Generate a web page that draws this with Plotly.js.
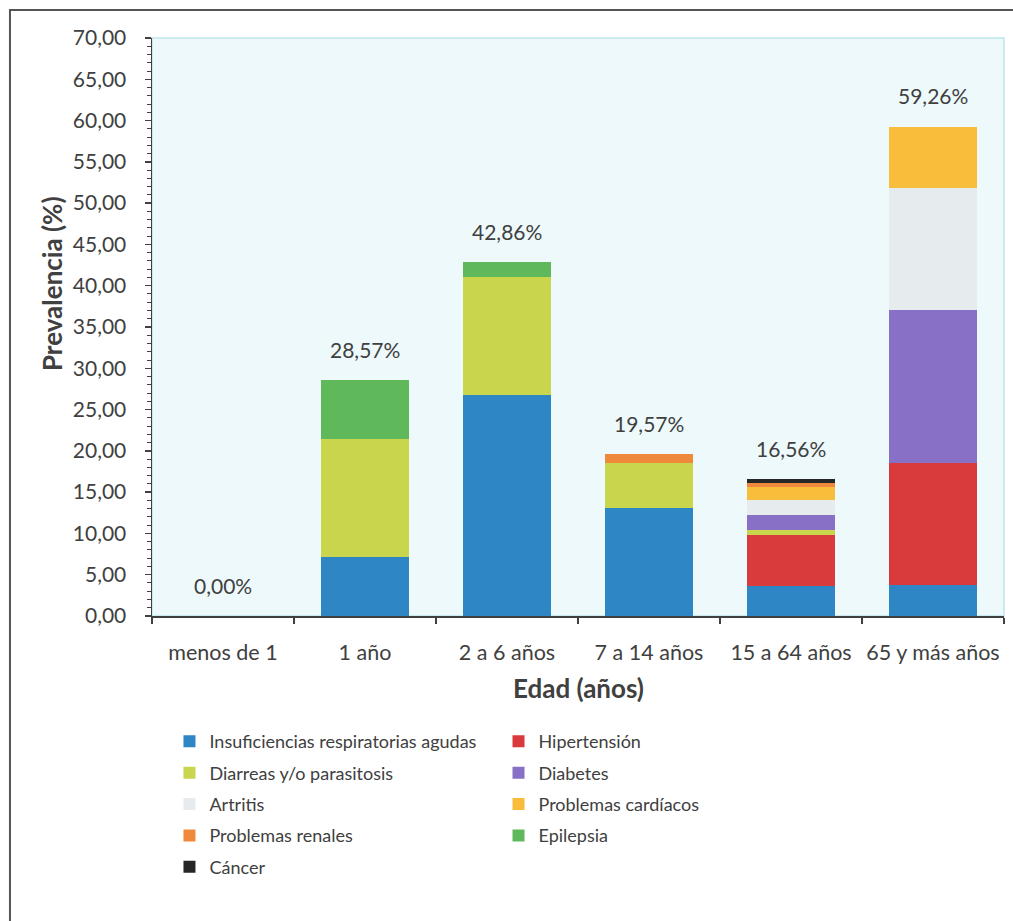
<!DOCTYPE html>
<html>
<head>
<meta charset="utf-8">
<script src="https://cdn.plot.ly/plotly-3.0.1.min.js"></script>
<style>
  html, body { margin: 0; padding: 0; background: #ffffff; }
  #chart { width: 1013px; height: 921px; }
</style>
</head>
<body>
<div id="chart"></div>
<script>
// Grupos de edad
const categorias = ["menos de 1", "1 año", "2 a 6 años", "7 a 14 años", "15 a 64 años", "65 y más años"];

// Prevalencia (%) por enfermedad y grupo de edad
const insuficiencias = [0, 7.14, 26.79, 13.04, 3.68, 3.70];
const hipertension   = [0, 0, 0, 0, 6.13, 14.81];
const diarreas       = [0, 14.29, 14.29, 5.44, 0.61, 0];
const diabetes       = [0, 0, 0, 0, 1.84, 18.52];
const artritis       = [0, 0, 0, 0, 1.84, 14.82];
const cardiacos      = [0, 0, 0, 0, 1.53, 7.41];
const renales        = [0, 0, 0, 1.09, 0.46, 0];
const epilepsia      = [0, 7.14, 1.78, 0, 0, 0];
const cancer         = [0, 0, 0, 0, 0.47, 0];

// columna de la leyenda: 1 = izquierda, 2 = derecha
const series = [
  { name: "Insuficiencias respiratorias agudas", values: insuficiencias, color: "#2f86c4", col: 1 },
  { name: "Hipertensión",                       values: hipertension,   color: "#d93b3d", col: 2 },
  { name: "Diarreas y/o parasitosis",           values: diarreas,       color: "#c9d54c", col: 1 },
  { name: "Diabetes",                           values: diabetes,       color: "#8870c6", col: 2 },
  { name: "Artritis",                           values: artritis,       color: "#e6ebee", col: 1 },
  { name: "Problemas cardíacos",                values: cardiacos,      color: "#f7bd3b", col: 2 },
  { name: "Problemas renales",                  values: renales,        color: "#ef8a3c", col: 1 },
  { name: "Epilepsia",                          values: epilepsia,      color: "#5fb95a", col: 2 },
  { name: "Cáncer",                             values: cancer,         color: "#262626", col: 1 }
];

const textColor = "#404040";
const fontFamily = "Lato, 'Open Sans', sans-serif";

const traces = series.map((s, i) => ({
  type: "bar",
  name: s.name,
  x: categorias,
  y: s.values,
  legend: s.col === 1 ? "legend" : "legend2",
  legendgroup: "g" + i,
  marker: { color: s.color, line: { width: 0 } },
  hoverinfo: "x+y+name"
}));

// Total por grupo de edad, sumado de las series
const totales = categorias.map((_, i) =>
  series.reduce((acc, s) => acc + s.values[i], 0));

const fmt = v => v.toFixed(2).replace(".", ",") + "%";

const etiquetas = categorias.map((c, i) => ({
  x: c, y: totales[i], xref: "x", yref: "y",
  text: fmt(totales[i]),
  showarrow: false, yshift: 31,
  font: { family: fontFamily, size: 21, color: textColor }
}));

const titulos = [
  {
    text: "<b>Prevalencia (%)</b>", textangle: -90,
    xref: "paper", yref: "paper", x: -0.1174, y: 0.576,
    xanchor: "center", yanchor: "middle", showarrow: false,
    font: { family: fontFamily, size: 26, color: textColor }
  },
  {
    text: "<b>Edad (años)</b>",
    xref: "paper", yref: "paper", x: 0.5, y: -0.1246,
    xanchor: "center", yanchor: "middle", showarrow: false,
    font: { family: fontFamily, size: 26, color: textColor }
  }
];

const legendBase = {
  orientation: "v",
  xanchor: "left",
  y: -0.1852, yanchor: "top",
  traceorder: "grouped",
  tracegroupgap: 5,
  font: { family: fontFamily, size: 18, color: textColor },
  itemwidth: 30,
  bgcolor: "rgba(0,0,0,0)"
};

const layout = {
  width: 1013, height: 921,
  margin: { l: 152, r: 9, t: 38, b: 305 },
  paper_bgcolor: "#ffffff",
  plot_bgcolor: "#eef9fb",
  barmode: "stack",
  bargap: 0.38,
  separators: ",.",
  font: { family: fontFamily, size: 21, color: textColor },
  showlegend: true,
  legend: Object.assign({}, legendBase, { x: 0.0205 }),
  legend2: Object.assign({}, legendBase, { x: 0.4067 }),
  xaxis: {
    type: "category",
    tickson: "boundaries",
    tickangle: 0,
    ticks: "outside", ticklen: 6, tickcolor: "#404040", tickwidth: 1.5,
    showline: true, linecolor: "#404040", linewidth: 1.5,
    showgrid: false, zeroline: false,
    ticklabelstandoff: 17,
    tickfont: { family: fontFamily, size: 21.5, color: textColor },
    fixedrange: true
  },
  yaxis: {
    range: [0, 70], dtick: 5, tick0: 0,
    tickformat: ".2f",
    ticks: "outside", ticklen: 6, tickcolor: "#404040", tickwidth: 1.5,
    minor: { dtick: 1, ticks: "outside", ticklen: 4, tickcolor: "#404040", tickwidth: 1 },
    showline: true, linecolor: "#404040", linewidth: 1.5,
    showgrid: false, zeroline: false,
    ticklabelstandoff: 14,
    tickfont: { family: fontFamily, size: 21, color: textColor },
    fixedrange: true
  },
  shapes: [
    // borde claro del área de trazado
    { type: "rect", xref: "paper", yref: "paper", x0: 0, x1: 1, y0: 0, y1: 1,
      line: { color: "#bfe5ee", width: 1.5 }, fillcolor: "rgba(0,0,0,0)", layer: "below" },
    // marco exterior del gráfico
    { type: "rect", xref: "paper", yref: "paper", x0: -0.1667, x1: 1.03, y0: -0.62, y1: 1.0484,
      line: { color: "#555555", width: 2 }, fillcolor: "rgba(0,0,0,0)", layer: "above" }
  ],
  annotations: etiquetas.concat(titulos)
};

Plotly.newPlot("chart", traces, layout, { displayModeBar: false, staticPlot: true });
</script>
</body>
</html>
